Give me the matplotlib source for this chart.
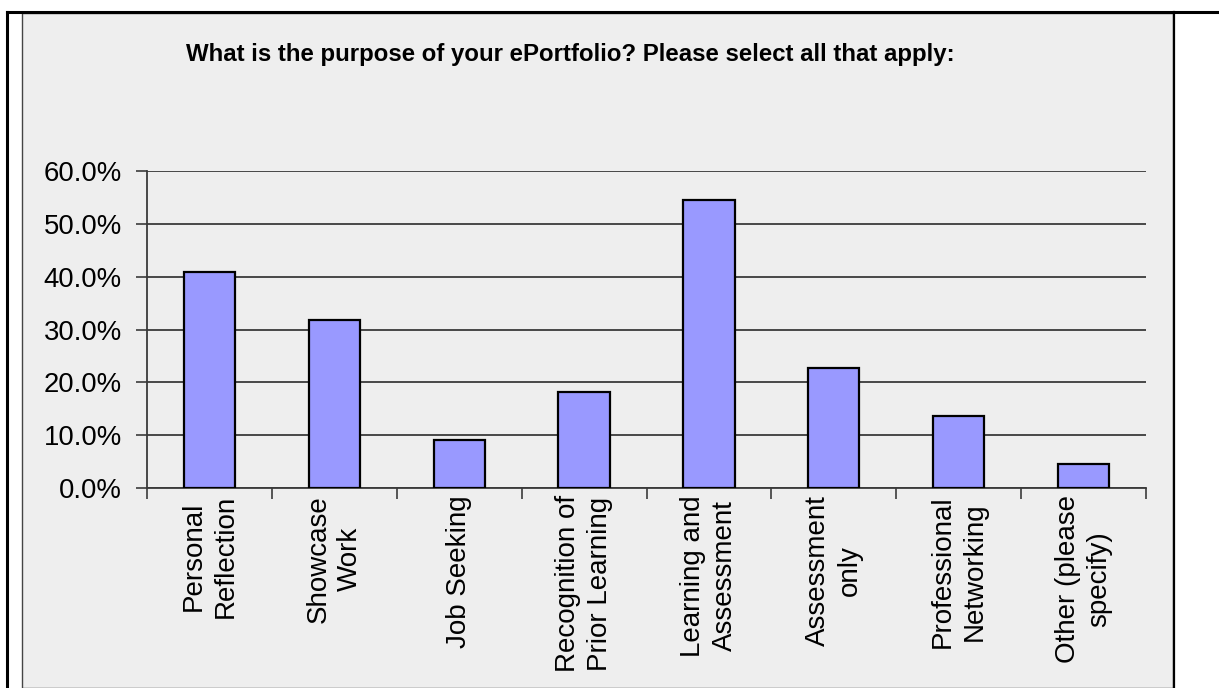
import numpy as np
import matplotlib
matplotlib.use("Agg")
import matplotlib.pyplot as plt
from matplotlib.patches import Rectangle
from matplotlib.lines import Line2D

plt.rcParams['font.family'] = ['Liberation Sans', 'DejaVu Sans']

categories = ['Personal\nReflection', 'Showcase\nWork', 'Job Seeking',
              'Recognition of\nPrior Learning', 'Learning and\nAssessment',
              'Assessment\nonly', 'Professional\nNetworking', 'Other (please\nspecify)']
values = [40.9, 31.8, 9.1, 18.2, 54.5, 22.7, 13.6, 4.5]
yticks = [0, 10, 20, 30, 40, 50, 60]
ytick_labels = ['0.0%', '10.0%', '20.0%', '30.0%', '40.0%', '50.0%', '60.0%']

W, H = 1219, 688
fig = plt.figure(figsize=(W / 100, H / 100), dpi=100)
fig.patch.set_facecolor('white')

# chart area background and outer frame
fig.patches.append(Rectangle((22 / W, 0), (1173 - 22) / W, (H - 13) / H,
                             transform=fig.transFigure, facecolor='#EEEEEE',
                             edgecolor='#444444', linewidth=1.0, zorder=-1))
fig.lines.append(Line2D([7 / W, 1], [1 - 12 / H, 1 - 12 / H], transform=fig.transFigure,
                        color='black', linewidth=2.2))
fig.lines.append(Line2D([7 / W, 7 / W], [0, 1 - 12 / H], transform=fig.transFigure,
                        color='black', linewidth=2.2))
fig.lines.append(Line2D([1174 / W, 1174 / W], [0, 1 - 12 / H], transform=fig.transFigure,
                        color='black', linewidth=1.6))

ax = fig.add_axes([147 / W, (H - 488) / H, (1146 - 147) / W, (488 - 171) / H])
ax.set_facecolor('#EEEEEE')

x = np.arange(len(categories))
ax.bar(x, values, width=0.41, color='#9999FF', edgecolor='black', linewidth=1.6, zorder=3)

ax.set_ylim(0, 60)
ax.set_xlim(-0.5, len(categories) - 0.5)
ax.set_yticks(yticks)
ax.set_yticklabels(ytick_labels, fontsize=19.8)
ax.yaxis.grid(True, color='#3a3a3a', linewidth=1.3, zorder=1)
ax.set_axisbelow(True)

ax.set_xticks(x)
ax.set_xticklabels(categories, rotation=90, fontsize=20, ha='center', va='top',
                   multialignment='center', linespacing=1.3)
ax.set_xticks(np.arange(-0.5, len(categories), 1), minor=True)
ax.tick_params(axis='x', which='major', length=0, pad=5)
ax.tick_params(axis='x', which='minor', length=8, width=1.2, color='#3a3a3a')
ax.tick_params(axis='y', length=8, width=1.2, color='#3a3a3a', pad=10)

for s in ['top', 'right']:
    ax.spines[s].set_visible(False)
for s in ['left', 'bottom']:
    ax.spines[s].set_color('#3a3a3a')
    ax.spines[s].set_linewidth(1.3)

fig.text(570 / W, 1 - 55 / H, 'What is the purpose of your ePortfolio? Please select all that apply:',
         ha='center', va='center', fontsize=17.3, fontweight='bold')

fig.savefig('out.png', dpi=100)
